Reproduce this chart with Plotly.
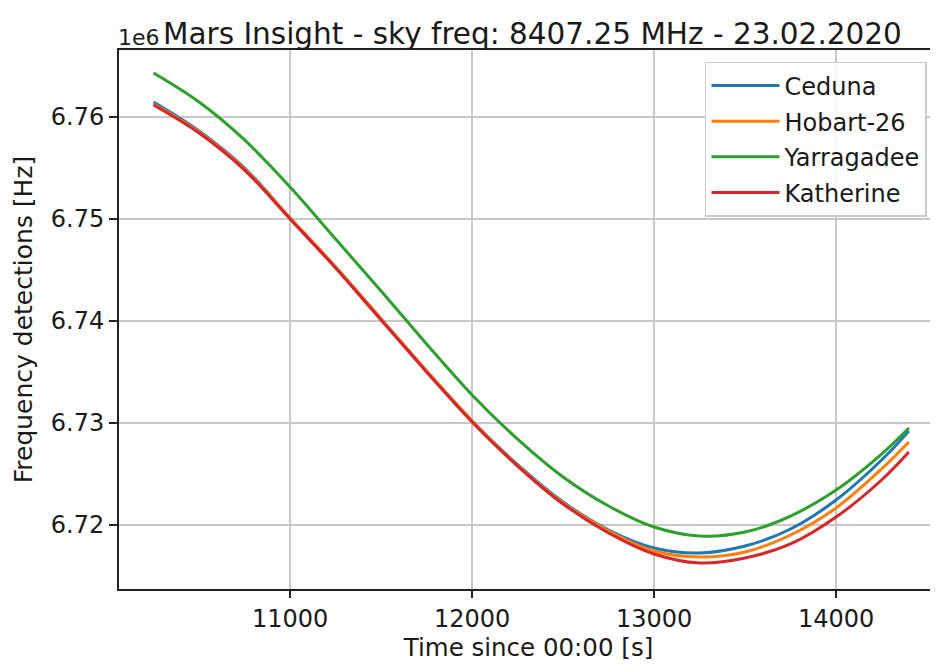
import plotly.graph_objects as go

time_s = [10250, 10500, 10750, 11000, 11250, 11500, 11750, 12000, 12250,
          12500, 12750, 13000, 13250, 13500, 13750, 14000, 14250, 14400]

ceduna = [6761470, 6758630, 6755000, 6750100, 6745290, 6740200, 6735100, 6730200, 6725920,
          6722260, 6719510, 6717750, 6717260, 6717940, 6719610, 6722450, 6726370, 6729220]
hobart26 = [6761280, 6758530, 6754900, 6750100, 6745290, 6740200, 6735100, 6730200, 6725820,
            6722160, 6719410, 6717450, 6716860, 6717350, 6719020, 6721670, 6725490, 6728140]
yarragadee = [6764310, 6761470, 6757750, 6753140, 6748040, 6742940, 6737750, 6732750, 6728420,
              6724710, 6721860, 6719800, 6718920, 6719310, 6720880, 6723430, 6726960, 6729510]
katherine = [6761180, 6758430, 6754800, 6750000, 6745200, 6740100, 6735000, 6730100, 6725780,
             6722060, 6719220, 6717160, 6716280, 6716770, 6718140, 6720780, 6724410, 6727160]

series_names = ["Ceduna", "Hobart-26", "Yarragadee", "Katherine"]
series_values = [ceduna, hobart26, yarragadee, katherine]
colors = ["#1f77b4", "#ff7f0e", "#2ca02c", "#d62728"]

x_ticks = [11000, 12000, 13000, 14000]
y_ticks = [6720000, 6730000, 6740000, 6750000, 6760000]
y_tick_labels = ["6.72", "6.73", "6.74", "6.75", "6.76"]

FONT = "DejaVu Sans"
TXT = "#1a1a1a"

fig = go.Figure()
for i, (name, vals, col) in enumerate(zip(series_names, series_values, colors)):
    fig.add_trace(go.Scatter(
        x=time_s, y=vals, mode="lines", name=name,
        line=dict(color=col, width=3, shape="spline", smoothing=1.0),
        legendgroup=f"g{i}",
    ))

fig.update_layout(
    width=938, height=664,
    margin=dict(l=111, r=8, t=42, b=83),
    paper_bgcolor="white", plot_bgcolor="white",
    font=dict(family=FONT, size=24, color=TXT),
    showlegend=True,
    legend=dict(
        x=0.7155, y=0.978, xanchor="left", yanchor="top",
        bgcolor="rgba(255,255,255,0.9)", bordercolor="#cccccc", borderwidth=1.5,
        font=dict(family=FONT, size=24, color=TXT),
        tracegroupgap=1.5, itemwidth=68,
    ),
    annotations=[
        dict(text="Mars Insight - sky freq: 8407.25 MHz - 23.02.2020",
             xref="paper", yref="paper", x=0.5, y=1, xanchor="center", yanchor="middle",
             xshift=4, yshift=16, showarrow=False, font=dict(family=FONT, size=29.5, color=TXT)),
        dict(text="1e6", xref="paper", yref="paper", x=0, y=1, xanchor="left",
             yanchor="bottom", xshift=-3, yshift=-2, showarrow=False,
             font=dict(family=FONT, size=22, color=TXT)),
    ],
)

fig.update_xaxes(
    range=[10060, 14560],
    tickvals=x_ticks, ticktext=[str(v) for v in x_ticks],
    showgrid=True, gridcolor="#c8c8c8", gridwidth=1.5,
    showline=True, linecolor="#222222", linewidth=2, mirror=True,
    ticks="outside", ticklen=7, tickwidth=1.5, tickcolor="#222222",
    zeroline=False, tickfont=dict(size=24),
    title=dict(text="Time since 00:00 [s]", font=dict(family=FONT, size=24.5, color=TXT), standoff=4),
)
fig.update_yaxes(
    range=[6713725, 6766569],
    tickvals=y_ticks, ticktext=y_tick_labels,
    showgrid=True, gridcolor="#c8c8c8", gridwidth=1.5,
    showline=True, linecolor="#222222", linewidth=2,
    ticks="outside", ticklen=8, tickwidth=1.5, tickcolor="#222222",
    zeroline=False, tickfont=dict(size=24),
    title=dict(text="Frequency detections [Hz]", font=dict(family=FONT, size=25, color=TXT), standoff=11),
)

fig.write_html("out.html")
